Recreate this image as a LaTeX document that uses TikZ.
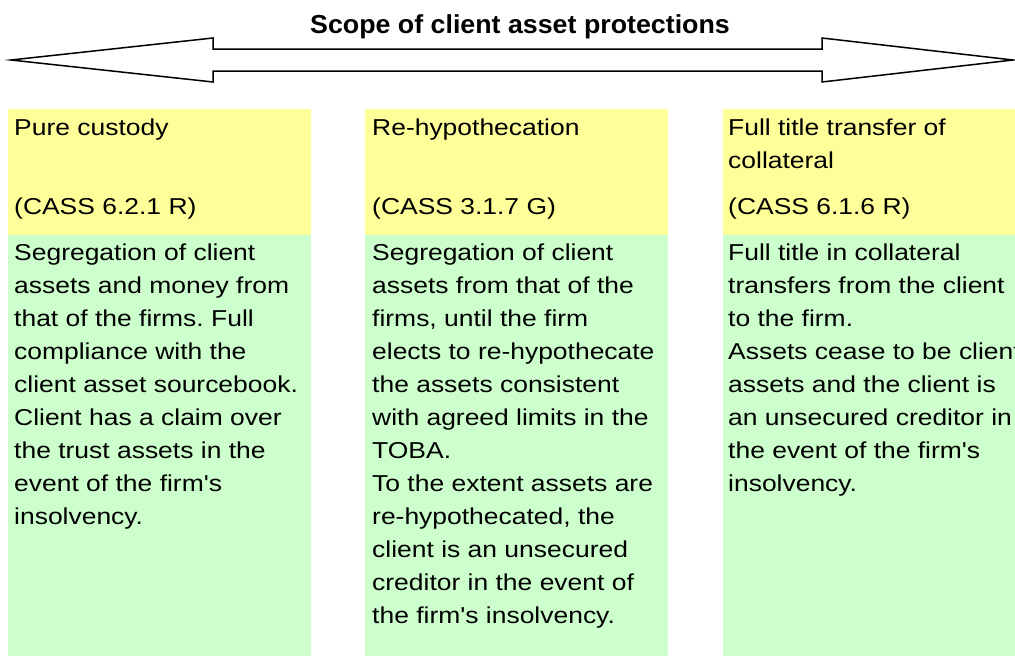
\documentclass[tikz,border=0pt]{standalone}
\usepackage{fontspec}
\setmainfont[FakeStretch=1.15,Ligatures=TeXOff]{Liberation Sans}
\newfontfamily\titlefont[FakeStretch=1.03]{Liberation Sans}
\definecolor{hdr}{HTML}{FFFF99}
\definecolor{bdy}{HTML}{CCFFCC}
\frenchspacing
\begin{document}
\begin{tikzpicture}[x=1pt,y=-1pt,
  hdrbox/.style={fill=hdr,draw=none,anchor=north west,inner sep=0pt,minimum height=126pt},
  bdybox/.style={fill=bdy,draw=none,anchor=north west,inner sep=0pt,minimum height=421pt},
  txt/.style={anchor=base west,inner sep=0pt,align=left,font=\fontsize{23}{33}\selectfont},
  ttl/.style={anchor=base,inner sep=0pt,font=\titlefont\bfseries\fontsize{26}{30}\selectfont},
  arrowshape/.style={draw=black,fill=white,line width=1.5pt,line join=miter}]
\useasboundingbox (0,0) rectangle (1015,656);
% column boxes
\node[hdrbox,minimum width=303pt] (h1) at (8,109) {};
\node[hdrbox,minimum width=303pt] (h2) at (365,109) {};
\node[hdrbox,minimum width=300pt] (h3) at (723,109) {};
\node[bdybox,minimum width=303pt] (b1) at (8,235) {};
\node[bdybox,minimum width=303pt] (b2) at (365,235) {};
\node[bdybox,minimum width=300pt] (b3) at (723,235) {};
% double arrow
\draw[arrowshape] (11,60) -- (213,38) -- (213,49) -- (822,49) -- (822,38) -- (1013,60)
  -- (822,82) -- (822,71) -- (213,71) -- (213,82) -- cycle;
\node[ttl] (title) at (520,33) {Scope of client asset protections};
% header texts (anchor = baseline of last line)
\node[txt] (h1a) at (14,135) {Pure custody};
\node[txt] (h1b) at (14,214) {(CASS 6.2.1 R)};
\node[txt] (h2a) at (372,135) {Re-hypothecation};
\node[txt] (h2b) at (372,214) {(CASS 3.1.7 G)};
\node[txt] (h3a) at (728,168) {Full title transfer of\\collateral};
\node[txt] (h3b) at (728,214) {(CASS 6.1.6 R)};
% body texts (anchor = baseline of last line; first line at 260)
\node[txt] (t1) at (14,524) {Segregation of client\\assets and money from\\that of the firms. Full\\compliance with the\\client asset sourcebook.\\Client has a claim over\\the trust assets in the\\event of the firm's\\insolvency.};
\node[txt] (t2) at (372,623) {Segregation of client\\assets from that of the\\firms, until the firm\\elects to re-hypothecate\\the assets consistent\\with agreed limits in the\\TOBA.\\To the extent assets are\\re-hypothecated, the\\client is an unsecured\\creditor in the event of\\the firm's insolvency.};
\node[txt] (t3) at (728,491) {Full title in collateral\\transfers from the client\\to the firm.\\Assets cease to be client\\assets and the client is\\an unsecured creditor in\\the event of the firm's\\insolvency.};
\end{tikzpicture}
\end{document}
